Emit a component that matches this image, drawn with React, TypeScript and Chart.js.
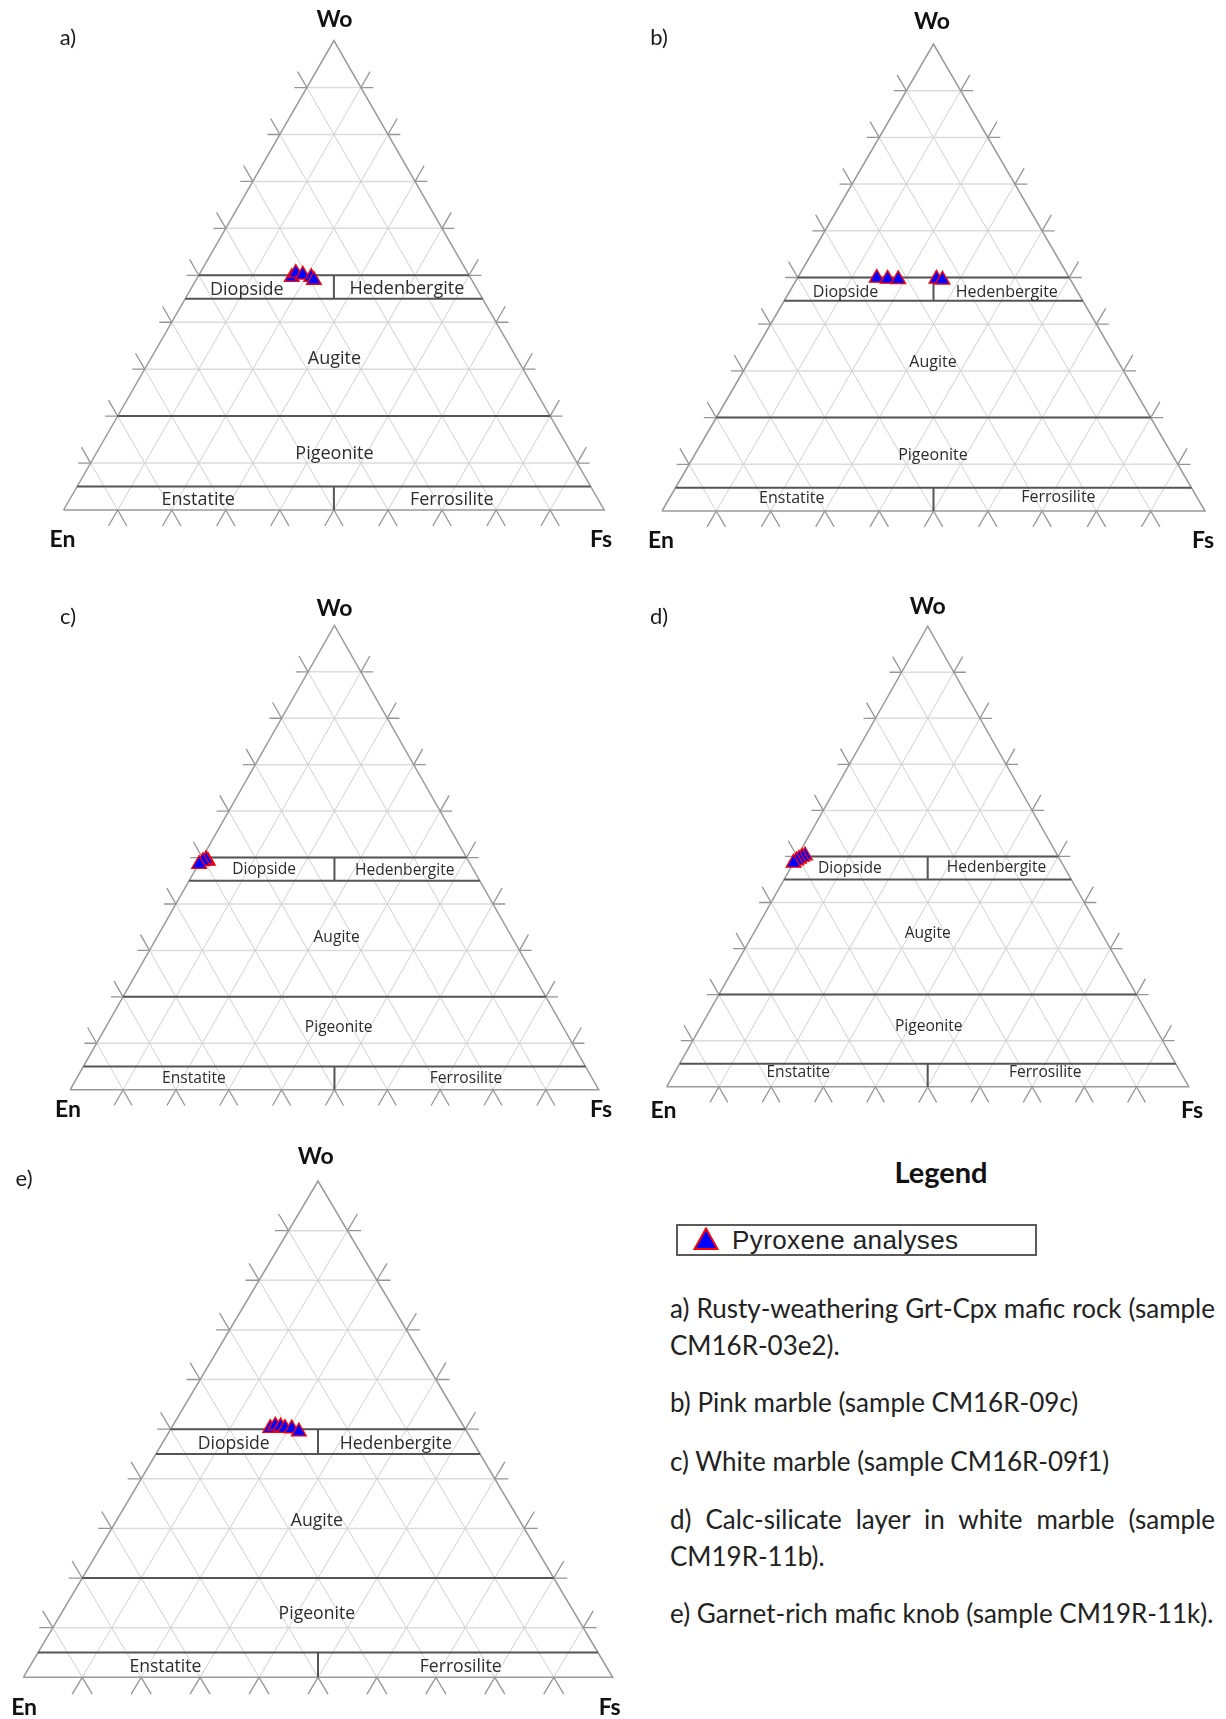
import React, { useEffect, useRef } from "react";
import { Chart, registerables } from "chart.js";

Chart.register(...registerables);

// ---------------- data ----------------
const gridTicks = [10, 20, 30, 40, 50, 60, 70, 80, 90];
const boundaryWo = [50, 45, 20, 5];
const dividerWoRanges: [number, number][] = [
  [45, 50],
  [0, 5],
];
const fieldNames = ["Diopside", "Hedenbergite", "Augite", "Pigeonite", "Enstatite", "Ferrosilite"];
const endMembers = ["Wo", "En", "Fs"];
const panelLetters = ["a)", "b)", "c)", "d)", "e)"];
const seriesLabel = "Pyroxene analyses";
const legendTitle = "Legend";

// Pyroxene analyses (Wo, En, Fs in mol %)
const woA = [49.6, 50.5, 50.1, 49.6, 49.0];
const enA = [33.0, 31.8, 30.7, 29.4, 29.2];
const fsA = [17.4, 17.7, 19.2, 21.0, 21.8];

const woB = [49.9, 49.7, 49.6, 49.7, 49.5];
const enB = [35.5, 33.6, 31.7, 24.6, 23.6];
const fsB = [14.6, 16.7, 18.7, 25.7, 26.9];

const woC = [49.3, 49.6, 49.2, 48.6];
const enC = [49.3, 49.5, 50.3, 51.3];
const fsC = [1.4, 0.9, 0.5, 0.1];

const woD = [50.2, 49.9, 49.5, 49.1, 48.6];
const enD = [48.4, 49.1, 49.9, 50.6, 51.4];
const fsD = [1.4, 1.0, 0.6, 0.3, 0.0];

const woE = [50.2, 50.7, 50.5, 50.2, 50.1, 49.5];
const enE = [33.0, 31.9, 31.1, 30.5, 29.4, 28.5];
const fsE = [16.8, 17.4, 18.4, 19.3, 20.5, 22.0];

const captionLines = [
  "a) Rusty-weathering Grt-Cpx mafic rock (sample",
  "CM16R-03e2).",
  "b) Pink marble (sample CM16R-09c)",
  "c) White marble (sample CM16R-09f1)",
  "d) Calc-silicate layer in white marble (sample",
  "CM19R-11b).",
  "e) Garnet-rich mafic knob (sample CM19R-11k).",
];

// ---------------- layout (page pixels) ----------------
type Panel = {
  letter: string;
  wo: number[];
  en: number[];
  fs: number[];
  box: { x: number; y: number; w: number; h: number };
  tri: { left: number; right: number; top: number; base: number };
  letterAt: [number, number];
  woAt: [number, number];
  enAt: [number, number];
  fsAt: [number, number];
  fieldFont: number;
  fieldAt: [number, number][]; // ternary X, Wo
};

const PANELS: Panel[] = [
  {
    letter: panelLetters[0], wo: woA, en: enA, fs: fsA,
    box: { x: 0, y: 0, w: 615, h: 560 },
    tri: { left: 63.6, right: 604.2, top: 40.6, base: 510 },
    letterAt: [68, 38], woAt: [334.5, 20], enAt: [62.5, 539.5], fsAt: [601, 539.5],
    fieldFont: 18,
    fieldAt: [[33.9, 47.0], [63.5, 47.2], [50.1, 32.3], [50.1, 11.9], [24.9, 2.2], [71.8, 2.2]],
  },
  {
    letter: panelLetters[1], wo: woB, en: enB, fs: fsB,
    box: { x: 615, y: 0, w: 611, h: 560 },
    tri: { left: 662, right: 1205, top: 44, base: 511 },
    letterAt: [659, 38], woAt: [932, 22], enAt: [661, 540.6], fsAt: [1203, 540.6],
    fieldFont: 16,
    fieldAt: [[33.8, 46.7], [63.5, 46.7], [49.9, 31.9], [49.9, 12.0], [23.9, 2.6], [73.0, 2.8]],
  },
  {
    letter: panelLetters[2], wo: woC, en: enC, fs: fsC,
    box: { x: 0, y: 560, w: 615, h: 580 },
    tri: { left: 70.2, right: 598.7, top: 625.4, base: 1089.7 },
    letterAt: [68, 617.4], woAt: [334.5, 608.6], enAt: [68, 1109.8], fsAt: [601, 1109.8],
    fieldFont: 15.6,
    fieldAt: [[36.7, 47.4], [63.3, 47.2], [50.4, 32.8], [50.8, 13.4], [23.4, 2.3], [74.9, 2.3]],
  },
  {
    letter: panelLetters[3], wo: woD, en: enD, fs: fsD,
    box: { x: 615, y: 560, w: 611, h: 580 },
    tri: { left: 666.7, right: 1188.7, top: 626.2, base: 1086.7 },
    letterAt: [659, 617.4], woAt: [927.7, 606.4], enAt: [663.4, 1110.9], fsAt: [1192, 1110.9],
    fieldFont: 15.6,
    fieldAt: [[35.1, 47.4], [63.2, 47.6], [50.0, 33.3], [50.2, 13.1], [25.2, 3.1], [72.5, 3.1]],
  },
  {
    letter: panelLetters[4], wo: woE, en: enE, fs: fsE,
    box: { x: 0, y: 1140, w: 650, h: 579 },
    tri: { left: 23.3, right: 612.7, top: 1181, base: 1677.3 },
    letterAt: [24.1, 1178.8], woAt: [315.8, 1157], enAt: [24.1, 1707.4], fsAt: [609.7, 1707.4],
    fieldFont: 17.6,
    fieldAt: [[35.7, 47.0], [63.2, 47.0], [49.8, 31.5], [49.8, 12.7], [24.1, 2.1], [74.2, 2.1]],
  },
];

const DIAG_EXT = 3.4; // tick extension beyond edges (Wo units)
const HORIZ_EXT = 2.3; // tick extension beyond edges (X units)

type P = { x: number; y: number | null };

function toXY(wo: number, en: number, fs: number): P {
  const s = wo + en + fs;
  return { x: ((fs + wo / 2) / s) * 100, y: (wo / s) * 100 };
}

function addSeg(arr: P[], a: P, b: P) {
  arr.push(a, b, { x: 0, y: null });
}

function buildLines() {
  const horiz: P[] = [];
  const diag: P[] = [];
  const ticks: P[] = [];
  const e = DIAG_EXT;
  const h = HORIZ_EXT;
  for (const v of gridTicks) {
    // constant Wo = v
    addSeg(horiz, { x: v / 2, y: v }, { x: 100 - v / 2, y: v });
    addSeg(ticks, { x: v / 2 - h, y: v }, { x: v / 2, y: v });
    addSeg(ticks, { x: 100 - v / 2, y: v }, { x: 100 - v / 2 + h, y: v });
    // constant Fs = v
    addSeg(diag, { x: v, y: 0 }, { x: v + (100 - v) / 2, y: 100 - v });
    addSeg(ticks, { x: v - e / 2, y: -e }, { x: v, y: 0 });
    addSeg(ticks, { x: v + (100 - v) / 2, y: 100 - v }, { x: v + (100 - v + e) / 2, y: 100 - v + e });
    // constant En = v
    addSeg(diag, { x: 100 - v, y: 0 }, { x: (100 - v) / 2, y: 100 - v });
    addSeg(ticks, { x: 100 - v + e / 2, y: -e }, { x: 100 - v, y: 0 });
    addSeg(ticks, { x: (100 - v) / 2, y: 100 - v }, { x: (100 - v - e) / 2, y: 100 - v + e });
  }
  const outline: P[] = [
    { x: 0, y: 0 },
    { x: 100, y: 0 },
    { x: 50, y: 100 },
    { x: 0, y: 0 },
  ];
  const bounds: P[] = [];
  for (const w of boundaryWo) addSeg(bounds, { x: w / 2, y: w }, { x: 100 - w / 2, y: w });
  for (const [lo, hi] of dividerWoRanges) addSeg(bounds, { x: 50, y: lo }, { x: 50, y: hi });
  return { horiz, diag, ticks, outline, bounds };
}

function lineDs(label: string, data: P[], color: string, width: number) {
  return {
    label,
    data,
    showLine: true,
    borderColor: color,
    borderWidth: width,
    pointRadius: 0,
    pointHoverRadius: 0,
    spanGaps: false,
    tension: 0,
    clip: false as const,
    borderCapStyle: "butt" as const,
  };
}

function TernaryPanel({ cfg }: { cfg: Panel }) {
  const ref = useRef<HTMLCanvasElement>(null);
  useEffect(() => {
    const canvas = ref.current;
    if (!canvas) return;
    const { box, tri } = cfg;
    const lines = buildLines();
    const pts = cfg.wo.map((w, i) => toXY(w, cfg.en[i], cfg.fs[i]));

    const textPlugin = {
      id: "ternaryText",
      beforeDatasetDraw(chart: any, args: any) {
        if (args.index !== 0) return;
        const { ctx } = chart;
        const xs = chart.scales.x;
        const ys = chart.scales.y;
        ctx.save();
        ctx.textAlign = "center";
        ctx.textBaseline = "middle";
        ctx.fillStyle = "#2c2c2c";
        ctx.font = `${cfg.fieldFont}px "Open Sans"`;
        fieldNames.forEach((name, i) => {
          const [fx, fy] = cfg.fieldAt[i];
          ctx.fillText(name, xs.getPixelForValue(fx), ys.getPixelForValue(fy));
        });
        ctx.fillStyle = "#111111";
        ctx.font = 'bold 23px "Lato"';
        const spots = [cfg.woAt, cfg.enAt, cfg.fsAt];
        endMembers.forEach((t, i) => {
          ctx.fillText(t, spots[i][0] - box.x, spots[i][1] - box.y);
        });
        ctx.font = '22px "Lato"';
        ctx.fillStyle = "#1a1a1a";
        ctx.fillText(cfg.letter, cfg.letterAt[0] - box.x, cfg.letterAt[1] - box.y);
        ctx.restore();
      },
    };

    const chart = new Chart(canvas, {
      type: "scatter",
      data: {
        datasets: [
          {
            label: seriesLabel,
            data: pts,
            pointStyle: "triangle",
            pointRadius: 8.5,
            pointHoverRadius: 8.5,
            backgroundColor: "#0000ff",
            borderColor: "#ff0000",
            borderWidth: 1.3,
            clip: false as const,
          },
          lineDs("boundaries", lines.bounds, "#555555", 2),
          lineDs("outline", lines.outline, "#999999", 1.5),
          lineDs("ticks", lines.ticks, "#959595", 1.3),
          lineDs("diagonal grid", lines.diag, "#d0d0d0", 1),
          lineDs("horizontal grid", lines.horiz, "#dcdcdc", 1.5),
        ] as any,
      },
      options: {
        responsive: false,
        animation: false,
        events: [],
        devicePixelRatio: 1,
        layout: {
          padding: {
            left: tri.left - box.x,
            right: box.x + box.w - tri.right,
            top: tri.top - box.y,
            bottom: box.y + box.h - tri.base,
          },
        },
        scales: {
          x: { type: "linear", min: 0, max: 100, display: false },
          y: { type: "linear", min: 0, max: 100, display: false },
        },
        plugins: {
          legend: { display: false },
          tooltip: { enabled: false },
        },
      },
      plugins: [textPlugin],
    });
    return () => chart.destroy();
  }, [cfg]);
  return (
    <canvas
      ref={ref}
      width={cfg.box.w}
      height={cfg.box.h}
      style={{
        position: "absolute",
        left: cfg.box.x,
        top: cfg.box.y,
        width: cfg.box.w,
        height: cfg.box.h,
      }}
    />
  );
}

const captionTops = [1308, 1344.5, 1401.5, 1460.7, 1518.8, 1556, 1613];
const captionJustified = [true, false, false, false, true, false, false];

export default function App() {
  return (
    <div
      style={{
        position: "absolute",
        left: 0,
        top: 0,
        width: 1226,
        height: 1719,
        background: "#ffffff",
        overflow: "hidden",
      }}
    >
      {PANELS.map((p) => (
        <TernaryPanel key={p.letter} cfg={p} />
      ))}
      <div
        style={{
          position: "absolute",
          left: 841,
          top: 1152,
          width: 200,
          textAlign: "center",
          fontFamily: "Lato",
          fontWeight: 700,
          fontSize: 29,
          lineHeight: "40px",
          color: "#111",
        }}
      >
        {legendTitle}
      </div>
      <div
        style={{
          position: "absolute",
          left: 676,
          top: 1224,
          width: 361,
          height: 32,
          border: "2px solid #5a5a5a",
          boxSizing: "border-box",
        }}
      >
        <svg width="26" height="24" style={{ position: "absolute", left: 15, top: 1 }}>
          <polygon points="13,1.5 24.5,22 1.5,22" fill="#0000ff" stroke="#ff0000" strokeWidth="2" />
        </svg>
        <div
          style={{
            position: "absolute",
            left: 54,
            top: 0,
            height: 28,
            lineHeight: "28px",
            fontFamily: "Liberation Sans",
            fontSize: 26,
            letterSpacing: 0.4,
            color: "#222",
            whiteSpace: "nowrap",
          }}
        >
          {seriesLabel}
        </div>
      </div>
      {captionLines.map((t, i) => (
        <div
          key={i}
          style={{
            position: "absolute",
            left: 670,
            top: captionTops[i] - 18,
            width: 545,
            height: 36,
            lineHeight: "36px",
            fontFamily: "Lato",
            fontSize: 26,
            color: "#222",
            whiteSpace: "nowrap",
            textAlign: captionJustified[i] ? "justify" : "left",
            textAlignLast: captionJustified[i] ? "justify" : "auto",
          } as React.CSSProperties}
        >
          {t}
        </div>
      ))}
    </div>
  );
}
